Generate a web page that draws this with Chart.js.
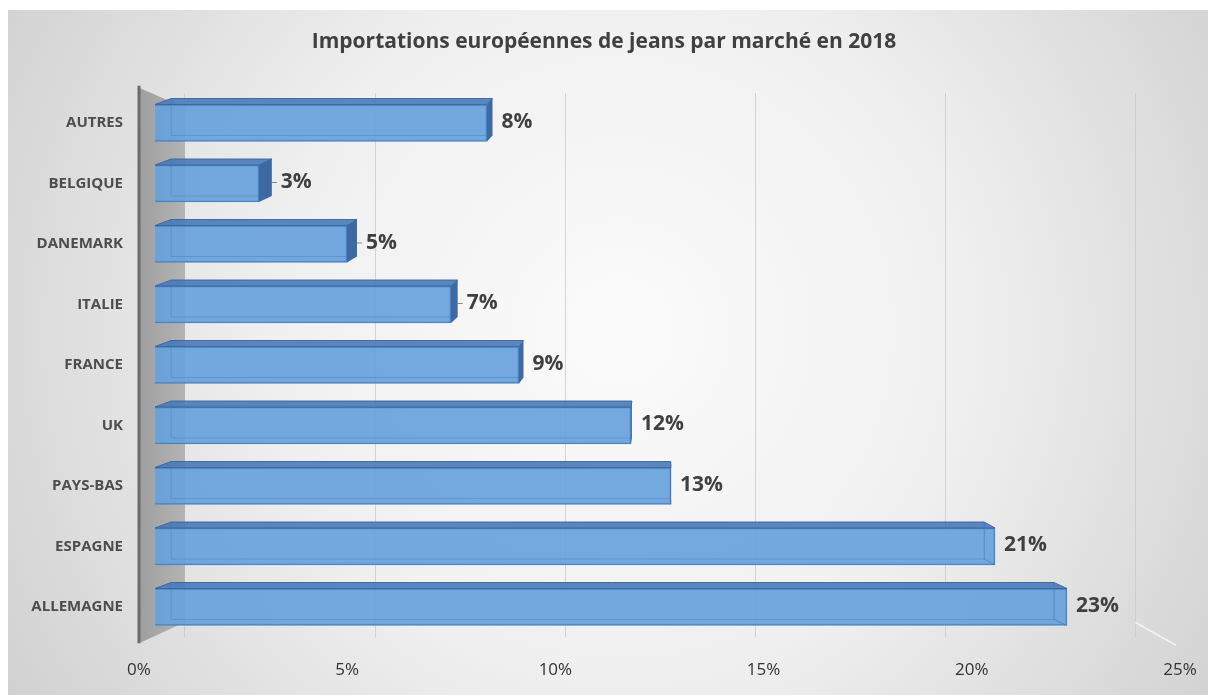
<!DOCTYPE html>
<html>
<head>
<meta charset="utf-8">
<script src="https://cdn.jsdelivr.net/npm/chart.js@4.4.1/dist/chart.umd.min.js"></script>
<style>
  html, body { margin: 0; padding: 0; background: #ffffff; }
  #c { display: block; }
</style>
</head>
<body>
<canvas id="c" width="1208" height="695"></canvas>
<script>
// ---- data ----
const chartTitle = 'Importations européennes de jeans par marché en 2018';
const categories = ['AUTRES', 'BELGIQUE', 'DANEMARK', 'ITALIE', 'FRANCE', 'UK', 'PAYS-BAS', 'ESPAGNE', 'ALLEMAGNE'];
const shares = [8.3, 2.6, 4.8, 7.4, 9.1, 11.9, 12.9, 21.0, 22.8];
const axisTicks = [0, 5, 10, 15, 20, 25];

// ---- styling helpers ----
const DEPTH_K = 0.968;   // perspective shrink of the bar back face
const DEPTH_DY = 6;      // rise of the bar top face

const backgroundPlugin = {
  id: 'bg',
  beforeDraw(chart) {
    const ctx = chart.ctx;
    ctx.save();
    ctx.fillStyle = '#ffffff';
    ctx.fillRect(0, 0, chart.width, chart.height);
    const g = ctx.createRadialGradient(620, 330, 0, 620, 330, 760);
    g.addColorStop(0, '#fbfbfb');
    g.addColorStop(0.45, '#f0f0f0');
    g.addColorStop(1, '#cdcdcd');
    ctx.fillStyle = g;
    ctx.fillRect(8, 10, chart.width - 8, chart.height - 10);
    ctx.restore();
  }
};

const wallPlugin = {
  id: 'wall',
  beforeDatasetsDraw(chart) {
    const ctx = chart.ctx;
    const a = chart.chartArea;
    const xf = chart.scales.x.getPixelForValue(0);
    const xbk = chart.scales.xg.getPixelForValue(0);
    const top = a.top - 7, bot = a.bottom + 6;
    ctx.save();
    const g = ctx.createLinearGradient(xf, 0, xbk, 0);
    g.addColorStop(0, '#9e9e9e');
    g.addColorStop(1, '#b4b4b4');
    ctx.fillStyle = g;
    ctx.beginPath();
    ctx.moveTo(xf, top + 2);
    ctx.lineTo(xbk, top + 22);
    ctx.lineTo(xbk, bot - 21);
    ctx.lineTo(xf, bot);
    ctx.closePath();
    ctx.fill();
    ctx.strokeStyle = '#6b6b6b';
    ctx.lineWidth = 3;
    ctx.beginPath();
    ctx.moveTo(xf, top);
    ctx.lineTo(xf, bot);
    ctx.stroke();
    // floor edge at the right end
    const x25b = chart.scales.xg.getPixelForValue(25);
    const x25f = chart.scales.x.getPixelForValue(25);
    ctx.strokeStyle = 'rgba(245,245,245,0.9)';
    ctx.lineWidth = 1.5;
    ctx.beginPath();
    ctx.moveTo(x25b, bot - 21);
    ctx.lineTo(x25f - 4, bot + 2);
    ctx.stroke();
    ctx.restore();
  }
};

const bar3dPlugin = {
  id: 'bar3d',
  afterDatasetsDraw(chart) {
    const ctx = chart.ctx;
    const a = chart.chartArea;
    const cx = (a.left + a.right) / 2;
    const bx = v => cx + (v - cx) * DEPTH_K;
    const meta = chart.getDatasetMeta(0);
    ctx.save();
    meta.data.forEach((bar, i) => {
      const p = bar.getProps(['x', 'y', 'base', 'height'], true);
      const L = p.base, R = p.x, T = p.y - p.height / 2, B = p.y + p.height / 2;
      const bL = bx(L), bR = bx(R);
      // top face
      ctx.fillStyle = 'rgba(72,122,184,0.9)';
      ctx.beginPath();
      ctx.moveTo(L, T);
      ctx.lineTo(R, T);
      ctx.lineTo(bR, T - DEPTH_DY);
      ctx.lineTo(bL, T - DEPTH_DY);
      ctx.closePath();
      ctx.fill();
      ctx.strokeStyle = 'rgba(55,100,160,0.9)';
      ctx.lineWidth = 1;
      ctx.stroke();
      // end face
      if (bR > R) {
        ctx.fillStyle = 'rgba(52,98,158,0.95)';
        ctx.beginPath();
        ctx.moveTo(R, T);
        ctx.lineTo(bR, T - DEPTH_DY);
        ctx.lineTo(bR, B - DEPTH_DY);
        ctx.lineTo(R, B);
        ctx.closePath();
        ctx.fill();
        if (bR - R > 6) {
          // small leader before the label
          ctx.strokeStyle = 'rgba(90,90,90,0.7)';
          ctx.beginPath();
          ctx.moveTo(bR, p.y - 1);
          ctx.lineTo(bR + 5, p.y - 1);
          ctx.stroke();
        }
      } else {
        ctx.strokeStyle = 'rgba(60,115,180,0.6)';
        ctx.beginPath();
        ctx.moveTo(bR, T - DEPTH_DY);
        ctx.lineTo(bR, B - DEPTH_DY);
        ctx.lineTo(R, B);
        ctx.stroke();
      }
      // faint back-left edge seen through the translucent face
      ctx.strokeStyle = 'rgba(60,115,180,0.35)';
      ctx.beginPath();
      ctx.moveTo(bL, T - DEPTH_DY);
      ctx.lineTo(bL, B - DEPTH_DY);
      ctx.lineTo(R > bR ? bR : R, B - DEPTH_DY);
      ctx.stroke();
      // value label
      const val = chart.data.datasets[0].data[i];
      ctx.fillStyle = '#404040';
      ctx.font = 'bold 21px "Open Sans"';
      ctx.textAlign = 'left';
      ctx.textBaseline = 'middle';
      ctx.fillText(Math.round(val) + '%', Math.max(R, bR) + 9, p.y - 1);
    });
    ctx.restore();
  }
};

new Chart(document.getElementById('c'), {
  type: 'bar',
  data: {
    labels: categories,
    datasets: [{
      data: shares,
      xAxisID: 'xb',
      backgroundColor: 'rgba(104,162,220,0.92)',
      borderColor: '#4a84c2',
      borderWidth: 1.5,
      barThickness: 37
    }]
  },
  options: {
    indexAxis: 'y',
    responsive: false,
    animation: false,
    devicePixelRatio: 1,
    layout: { padding: { left: 28, right: 28, top: 10, bottom: 10.8 } },
    plugins: {
      legend: { display: false },
      tooltip: { enabled: false },
      title: {
        display: true,
        text: chartTitle,
        color: '#404040',
        font: { family: 'Open Sans', size: 21, weight: 'bold' },
        padding: { top: 19.4, bottom: 38.15 }
      }
    },
    scales: {
      y: {
        position: 'left',
        grid: { display: false, drawTicks: false },
        border: { display: false },
        ticks: {
          color: '#4d4d4d',
          padding: 16,
          font: { family: 'Open Sans', size: 15, weight: 'bold' }
        },
        afterFit(scale) { scale.width = 111; }
      },
      x: {
        position: 'bottom',
        min: 0,
        max: 25,
        grid: { display: false, drawTicks: true, tickLength: 18.55 },
        border: { display: false },
        afterBuildTicks(scale) { scale.ticks = axisTicks.map(v => ({ value: v })); },
        ticks: {
          color: '#333333',
          padding: 4,
          font: { family: 'Open Sans', size: 17 },
          callback: v => v + '%'
        }
      },
      xb: {
        display: false,
        min: -0.4,
        max: 25.625
      },
      xg: {
        position: 'top',
        min: -1.21,
        max: 26.18,
        grid: { color: 'rgba(200,200,200,0.75)', lineWidth: 1, drawTicks: false },
        border: { display: false },
        ticks: { display: false, stepSize: 5, includeBounds: false }
      }
    }
  },
  plugins: [backgroundPlugin, wallPlugin, bar3dPlugin]
});
</script>
</body>
</html>
